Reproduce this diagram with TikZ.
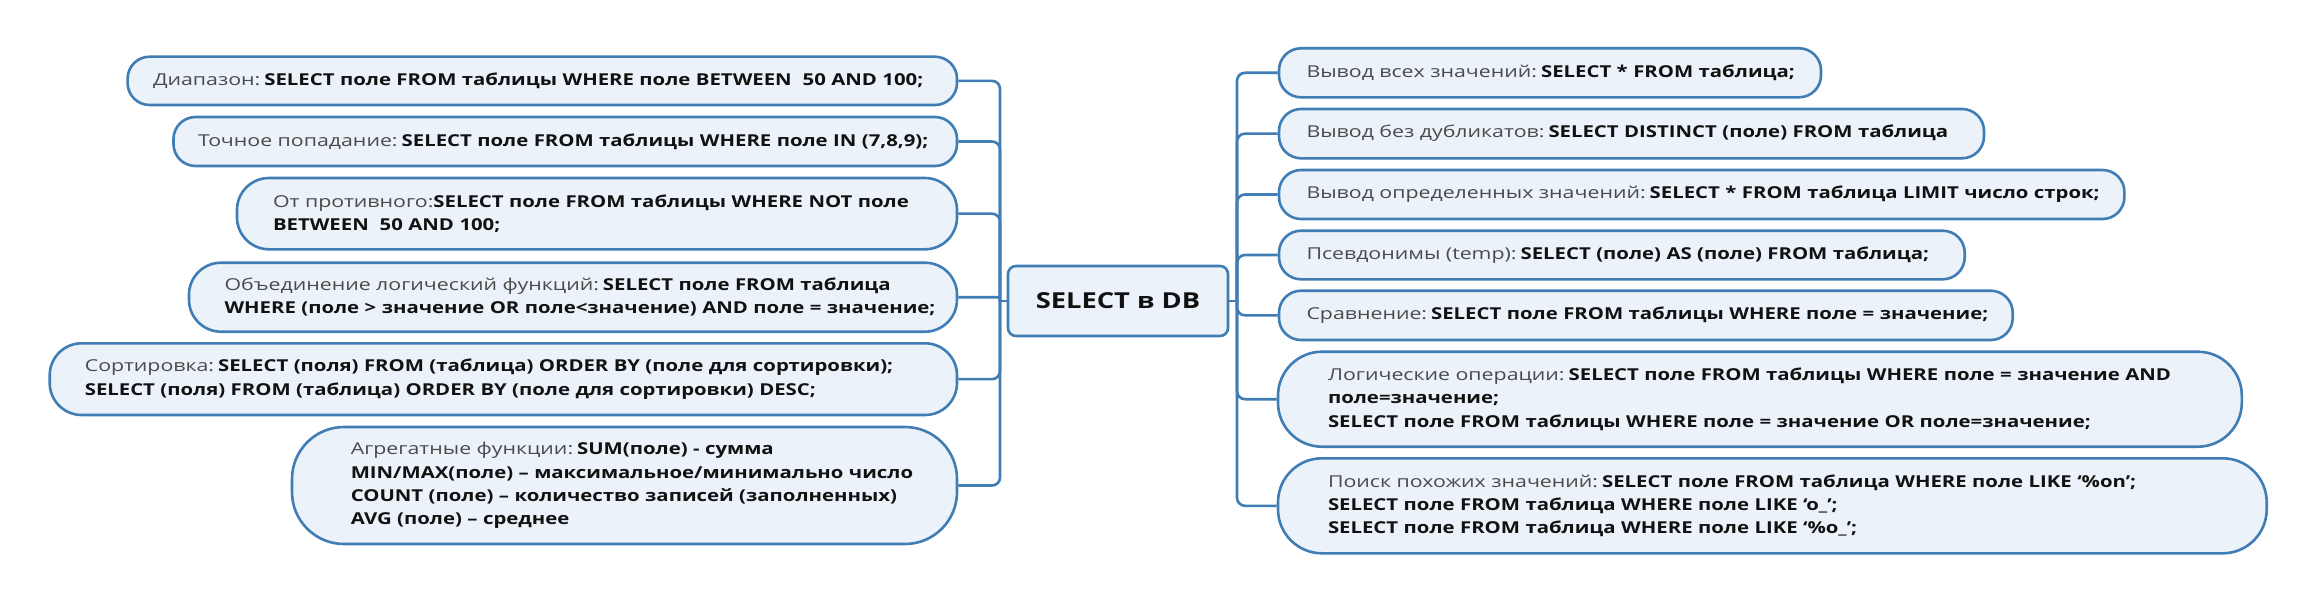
\documentclass[tikz,border=0pt]{standalone}
\usepackage{fontspec}
\setmainfont{Open Sans}[UprightFeatures={FakeStretch=1.3}, BoldFeatures={FakeStretch=1.24}]
\definecolor{edge}{HTML}{3F7DB4}
\definecolor{boxfill}{HTML}{EBF2F9}
\definecolor{lightc}{HTML}{4A4A4A}
\definecolor{boldc}{HTML}{111111}
\newcommand{\mylt}[1]{{\color{lightc}#1}\hspace{4pt}}
\newcommand{\mybd}[1]{{\bfseries\color{boldc}#1}}
\newcommand{\myln}[1]{\mbox{#1}}
\tikzset{
  box/.style={draw=edge, fill=boxfill, line width=2.6pt, align=left,
    inner xsep=0pt, inner ysep=0pt, font=\fontsize{16.4}{23.3}\selectfont},
  conn/.style={draw=edge, line width=2.6pt},
}
\begin{document}
\begin{tikzpicture}[x=1pt,y=-1pt]
\useasboundingbox (0,0) rectangle (2315,602);
\fill[white] (0,0) rectangle (2315,602);

% left boxes
\node[box, minimum width=829.4, minimum height=48.3, text width=778.6, rounded corners=22] (l1) at (542.3,80.85)
  {\myln{\mylt{Диапазон:}\mybd{SELECT поле FROM таблицы WHERE поле BETWEEN\ \ 50 AND 100;}}};
\node[box, minimum width=783.5, minimum height=49, text width=734.5, rounded corners=22] (l2) at (565.25,141.5)
  {\myln{\mylt{Точное попадание:}\mybd{SELECT поле FROM таблицы WHERE поле IN (7,8,9);}}};
\node[box, minimum width=720, minimum height=71.3, text width=648, rounded corners=32] (l3) at (597,213.65)
  {\myln{{\color{lightc}От противного:}\mybd{SELECT поле FROM таблицы WHERE NOT поле}}\\
   \myln{\mybd{BETWEEN\ \ 50 AND 100;}}};
\node[box, minimum width=768, minimum height=69, text width=697, rounded corners=32] (l4) at (573,297.2)
  {\myln{\mylt{Объединение логический функций:}\mybd{SELECT поле FROM таблица}}\\
   \myln{\mybd{WHERE (поле > значение OR поле<значение) AND поле = значение;}}};
\node[box, minimum width=907.3, minimum height=71.7, text width=837.1, rounded corners=32] (l5) at (503.35,379.15)
  {\myln{\mylt{Сортировка:}\mybd{SELECT (поля) FROM (таблица) ORDER BY (поле для сортировки);}}\\
   \myln{\mybd{SELECT (поля) FROM (таблица) ORDER BY (поле для сортировки) DESC;}}};
\node[box, minimum width=665, minimum height=117, text width=547.4, rounded corners=52] (l6) at (624.5,485.5)
  {\myln{\mylt{Агрегатные функции:}\mybd{SUM(поле) - сумма}}\\
   \myln{\mybd{MIN/MAX(поле) – максимальное/минимально число}}\\
   \myln{\mybd{COUNT (поле) – количество записей (заполненных)}}\\
   \myln{\mybd{AVG (поле) – среднее}}};

% root
\node[box, minimum width=220, minimum height=70, rounded corners=8, align=center,
  font=\fontsize{22}{26}\selectfont] (root) at (1118,301) {\mybd{SELECT в DB}};

% right boxes
\node[box, minimum width=542, minimum height=49, text width=487, rounded corners=22] (r1) at (1550,72.8)
  {\myln{\mylt{Вывод всех значений:}\mybd{SELECT * FROM таблица;}}};
\node[box, minimum width=705, minimum height=49.3, text width=650, rounded corners=22] (r2) at (1631.5,133.65)
  {\myln{\mylt{Вывод без дубликатов:}\mybd{SELECT DISTINCT (поле) FROM таблица}}};
\node[box, minimum width=845.4, minimum height=49, text width=790.4, rounded corners=22] (r3) at (1701.7,194.5)
  {\myln{\mylt{Вывод определенных значений:}\mybd{SELECT * FROM таблица LIMIT число строк;}}};
\node[box, minimum width=685.7, minimum height=48.6, text width=630.7, rounded corners=22] (r4) at (1621.85,255)
  {\myln{\mylt{Псевдонимы (temp):}\mybd{SELECT (поле) AS (поле) FROM таблица;}}};
\node[box, minimum width=733.7, minimum height=49.3, text width=678.7, rounded corners=22] (r5) at (1645.85,315.35)
  {\myln{\mylt{Сравнение:}\mybd{SELECT поле FROM таблицы WHERE поле = значение;}}};
\node[box, minimum width=963.8, minimum height=95, text width=863.8, rounded corners=44] (r6) at (1759.9,399.2)
  {\myln{\mylt{Логические операции:}\mybd{SELECT поле FROM таблицы WHERE поле = значение AND}}\\
   \myln{\mybd{поле=значение;}}\\
   \myln{\mybd{SELECT поле FROM таблицы WHERE поле = значение OR поле=значение;}}};
\node[box, minimum width=988.7, minimum height=95, text width=888.7, rounded corners=44] (r7) at (1772.35,505.8)
  {\myln{\mylt{Поиск похожих значений:}\mybd{SELECT поле FROM таблица WHERE поле LIKE ‘\%on’;}}\\
   \myln{\mybd{SELECT поле FROM таблица WHERE поле LIKE ‘o\_’;}}\\
   \myln{\mybd{SELECT поле FROM таблица WHERE поле LIKE ‘\%o\_’;}}};

% trunks
\coordinate (tl) at (1000,301);
\coordinate (tr) at (1237,301);
\draw[conn] (root.west) -- (tl);
\draw[conn] (root.east) -- (tr);
\foreach \n in {l1,l2,l3,l5,l6} \draw[conn, rounded corners=8] (tl) |- (\n.east);
\draw[conn, rounded corners=1.5] (tl) |- (l4.east);
\foreach \n in {r1,r2,r3,r4,r5,r6,r7} \draw[conn, rounded corners=8] (tr) |- (\n.west);
\end{tikzpicture}
\end{document}
